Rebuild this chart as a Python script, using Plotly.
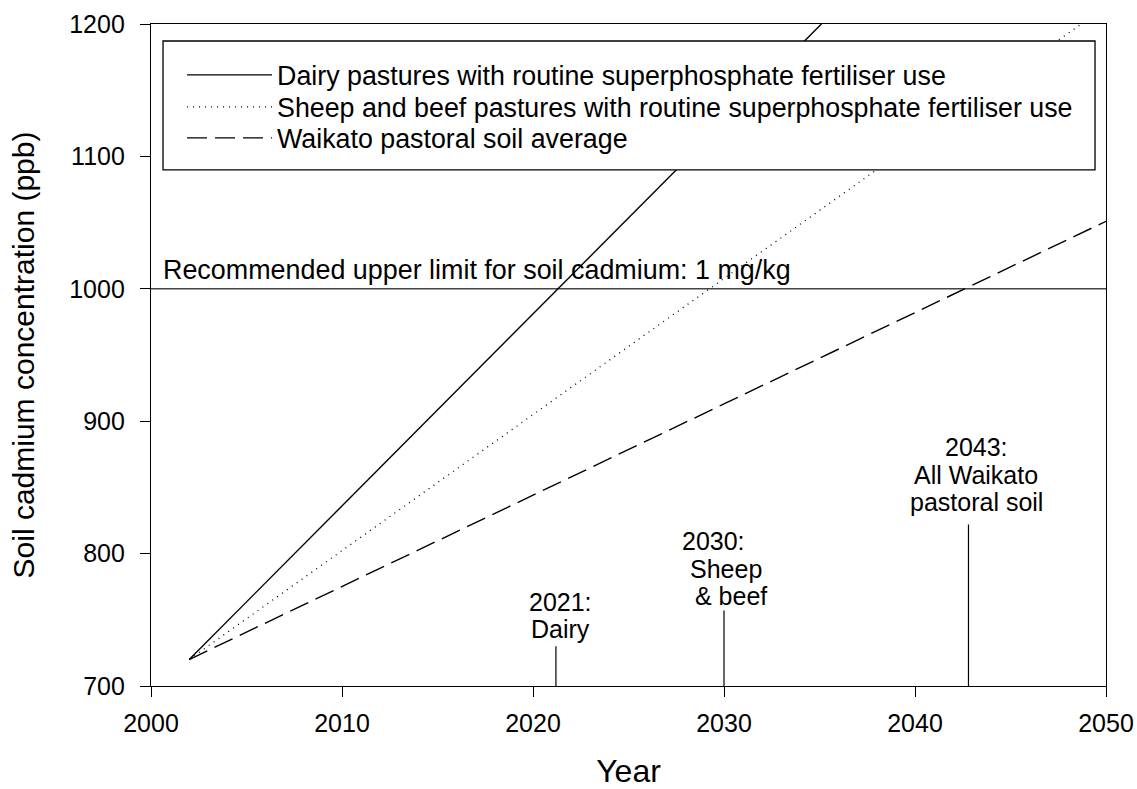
import plotly.graph_objects as go

# ---------------- data ----------------
series_names = [
    "Dairy pastures with routine superphosphate fertiliser use",
    "Sheep and beef pastures with routine superphosphate fertiliser use",
    "Waikato pastoral soil average",
]
dairy_x = [2002, 2035.1]
dairy_y = [720, 1200]
sheep_x = [2002, 2048.7]
sheep_y = [720, 1200]
waikato_x = [2002, 2050]
waikato_y = [720, 1051]

limit_x = [2000, 2050]
limit_y = [1000, 1000]
limit_label = "Recommended upper limit for soil cadmium: 1 mg/kg"

marker_years = [2021.2, 2030.0, 2042.8]
marker_base = [700, 700, 700]
marker_tops = [730, 757, 822]
marker_labels = [
    ["2021:", "Dairy"],
    ["2030:", "Sheep", "& beef"],
    ["2043:", "All Waikato", "pastoral soil"],
]

x_ticks = [2000, 2010, 2020, 2030, 2040, 2050]
y_ticks = [700, 800, 900, 1000, 1100, 1200]
x_title = "Year"
y_title = "Soil cadmium concentration (ppb)"

# ---------------- styles ----------------
FONT = "Liberation Sans, Arial, sans-serif"
label_shifts = [[44.75, 17.25], [69.5, 42, 14.5], [77.2, 49.7, 22.2]]  # px above line top
label_xshift = [[5, 5], [-11, 2, 7], [8, 8, 8]]
legend_rows_y = [0.923, 0.8746, 0.8278]
legend_keys = ["legend", "legend2", "legend3"]

fig = go.Figure()

fig.add_trace(go.Scatter(x=limit_x, y=limit_y, mode="lines",
                         line=dict(color="#444444", width=1.6),
                         showlegend=False, hoverinfo="skip"))

styles = [dict(color="black", width=1.4),
          dict(color="black", width=1.3, dash="1px,5px"),
          dict(color="black", width=1.4, dash="20px,8px")]
for xs, ys, nm, st, lg in zip([dairy_x, sheep_x, waikato_x],
                              [dairy_y, sheep_y, waikato_y],
                              series_names, styles, legend_keys):
    fig.add_trace(go.Scatter(x=xs, y=ys, mode="lines", name=nm, line=st,
                             legend=lg, showlegend=True))

for xv, yb, yt in zip(marker_years, marker_base, marker_tops):
    fig.add_trace(go.Scatter(x=[xv, xv], y=[yb, yt], mode="lines",
                             line=dict(color="black", width=1.2),
                             showlegend=False, hoverinfo="skip"))

annotations = []
for xv, yt, lines, shifts, xs in zip(marker_years, marker_tops, marker_labels,
                                      label_shifts, label_xshift):
    for txt, sh, dx in zip(lines, shifts, xs):
        annotations.append(dict(x=xv, y=yt, xref="x", yref="y", text=txt,
                                showarrow=False, xanchor="center", yanchor="middle",
                                yshift=sh, xshift=dx, borderpad=0, borderwidth=0,
                                font=dict(family=FONT, size=25, color="black")))

annotations.append(dict(x=limit_x[0], y=limit_y[0], xref="x", yref="y",
                        text=limit_label, showarrow=False,
                        xanchor="left", yanchor="bottom", xshift=10, yshift=2,
                        font=dict(family=FONT, size=26.9, color="black")))

axis_common = dict(showline=True, linecolor="black", linewidth=1.3, mirror=True,
                   ticks="outside", ticklen=10, tickwidth=1.3, tickcolor="black",
                   showgrid=False, zeroline=False, automargin=False,
                   tickfont=dict(family=FONT, size=25, color="black"))

legend_common = dict(x=0.0325, xanchor="left", yanchor="middle",
                     bgcolor="rgba(0,0,0,0)", borderwidth=0,
                     font=dict(family=FONT, size=26.8, color="black"),
                     itemwidth=85)

fig.update_layout(
    width=1137, height=789,
    margin=dict(l=151, r=31, t=24, b=103, autoexpand=False),
    paper_bgcolor="white", plot_bgcolor="white",
    font=dict(family=FONT, color="black"),
    xaxis=dict(range=[2000, 2050], tickvals=x_ticks, ticklabelstandoff=5,
               title=dict(text=x_title, font=dict(family=FONT, size=32), standoff=32),
               **axis_common),
    yaxis=dict(range=[700, 1200], tickvals=y_ticks, ticklabelstandoff=10,
               title=dict(text=y_title, font=dict(family=FONT, size=30), standoff=25),
               **axis_common),
    showlegend=True,
    legend=dict(y=legend_rows_y[0], **legend_common),
    legend2=dict(y=legend_rows_y[1], **legend_common),
    legend3=dict(y=legend_rows_y[2], **legend_common),
    shapes=[dict(type="rect", xref="paper", yref="paper",
                 x0=0.0126, x1=0.9885, y0=0.7795, y1=0.9743,
                 line=dict(color="black", width=1.3), fillcolor="white",
                 layer="above")],
    annotations=annotations,
)

# remove the browser's default page margin so the figure fills the window exactly
fig.write_html("out.html", config={"displayModeBar": False},
               post_script="document.body.style.margin='0';document.body.style.overflow='hidden';")
